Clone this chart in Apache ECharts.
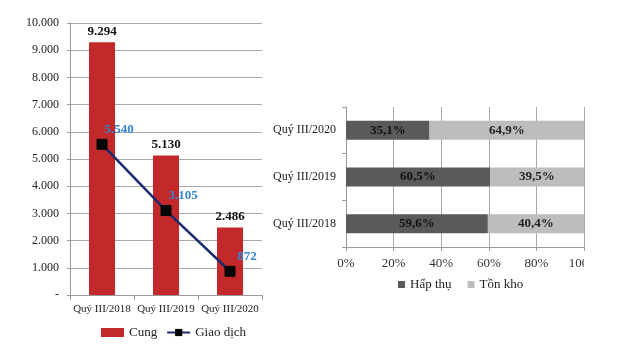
<!DOCTYPE html>
<html>
<head>
<meta charset="utf-8">
<script src="https://cdn.jsdelivr.net/npm/echarts@6/dist/echarts.min.js"></script>
<style>html,body{margin:0;padding:0;background:#fff}#c{width:630px;height:348px}</style>
</head>
<body>
<div id="c"></div>
<script>
var leftCategories = ['Quý III/2018', 'Quý III/2019', 'Quý III/2020'];
var cungValues = [9294, 5130, 2486];
var giaoDichValues = [5540, 3105, 872];
var leftTicks = {min: 0, max: 10000, interval: 1000};

var rightCategories = ['Quý III/2018', 'Quý III/2019', 'Quý III/2020'];
var hapThuValues = [59.6, 60.5, 35.1];
var tonKhoValues = [40.4, 39.5, 64.9];
var rightTicks = {min: 0, max: 100, interval: 20};

var FONT = 'Liberation Serif';
function dotNum(v) {
  if (v === 0) return '-';
  return String(v).replace(/\B(?=(\d{3})+(?!\d))/g, '.');
}
function commaPct(v) { return String(v.toFixed(1)).replace('.', ',') + '%'; }

var chart = echarts.init(document.getElementById('c'), null, {renderer: 'canvas'});
chart.setOption({
  backgroundColor: '#fff',
  animation: false,
  textStyle: {fontFamily: FONT},
  grid: [
    {left: 70, right: 368, top: 23, bottom: 53, containLabel: false},
    {left: 346, right: 46, top: 107, bottom: 101, containLabel: false}
  ],
  legend: [
    {
      left: 96, top: 321, itemGap: 9, itemWidth: 23, itemHeight: 9,
      textStyle: {fontFamily: FONT, fontSize: 13, color: '#222'},
      data: [
        {name: 'Cung', icon: 'rect'},
        {name: 'Giao dịch'}
      ]
    },
    {
      left: 393, top: 273, itemGap: 16, itemWidth: 7, itemHeight: 7,
      textStyle: {fontFamily: FONT, fontSize: 13, color: '#222'},
      data: [
        {name: 'Hấp thụ', icon: 'rect'},
        {name: 'Tồn kho', icon: 'rect'}
      ]
    }
  ],
  xAxis: [
    {
      gridIndex: 0, type: 'category', data: leftCategories,
      axisLine: {lineStyle: {color: '#9a9a9a', width: 1}},
      axisTick: {show: true, alignWithLabel: false, length: 5, lineStyle: {color: '#9a9a9a'}},
      axisLabel: {fontFamily: FONT, fontSize: 11, color: '#222', margin: 9, interval: 0}
    },
    {
      gridIndex: 1, type: 'value', min: rightTicks.min, max: rightTicks.max, interval: rightTicks.interval,
      axisLine: {show: true, lineStyle: {color: '#9a9a9a'}},
      axisTick: {show: true, length: 4, lineStyle: {color: '#9a9a9a'}},
      splitLine: {show: true, lineStyle: {color: '#a8a8a8', width: 1}},
      axisLabel: {fontFamily: FONT, fontSize: 13, color: '#333', margin: 10,
        formatter: function (v) { return v + '%'; }}
    }
  ],
  yAxis: [
    {
      gridIndex: 0, type: 'value', min: leftTicks.min, max: leftTicks.max, interval: leftTicks.interval,
      axisLine: {show: true, lineStyle: {color: '#9a9a9a'}},
      axisTick: {show: true, length: 3, lineStyle: {color: '#9a9a9a'}},
      splitLine: {show: true, lineStyle: {color: '#a8a8a8', width: 1}},
      axisLabel: {fontFamily: FONT, fontSize: 12, color: '#222', margin: 11, formatter: dotNum}
    },
    {
      gridIndex: 1, type: 'category', data: rightCategories,
      axisLine: {show: true, lineStyle: {color: '#9a9a9a'}},
      axisTick: {show: true, length: 4, lineStyle: {color: '#9a9a9a'}},
      axisLabel: {fontFamily: FONT, fontSize: 12, color: '#222', margin: 10}
    }
  ],
  series: [
    {
      name: 'Cung', type: 'bar', xAxisIndex: 0, yAxisIndex: 0, data: cungValues,
      barWidth: 26, itemStyle: {color: '#c3282b'},
      label: {show: true, position: 'top', distance: 4, fontFamily: FONT, fontSize: 13, fontWeight: 'bold', color: '#111',
        formatter: function (p) { return dotNum(p.value); }},
      z: 2
    },
    {
      name: 'Giao dịch', type: 'line', xAxisIndex: 0, yAxisIndex: 0, data: giaoDichValues,
      symbol: 'rect', symbolSize: 10,
      lineStyle: {color: '#1d2a6e', width: 2.5},
      itemStyle: {color: '#050505', borderColor: '#050505'},
      label: {show: true, position: 'top', distance: 3, offset: [17, 0], fontFamily: FONT, fontSize: 13, fontWeight: 'bold', color: '#3585d2',
        formatter: function (p) { return dotNum(p.value); }},
      z: 5
    },
    {
      name: 'Hấp thụ', type: 'bar', stack: 'r', xAxisIndex: 1, yAxisIndex: 1, data: hapThuValues,
      barWidth: 19, itemStyle: {color: '#5a5a5a'},
      label: {show: true, position: 'inside', fontFamily: FONT, fontSize: 13, fontWeight: 'bold', color: '#111',
        formatter: function (p) { return commaPct(p.value); }}
    },
    {
      name: 'Tồn kho', type: 'bar', stack: 'r', xAxisIndex: 1, yAxisIndex: 1, data: tonKhoValues,
      barWidth: 19, itemStyle: {color: '#bdbdbd'},
      label: {show: true, position: 'inside', fontFamily: FONT, fontSize: 13, fontWeight: 'bold', color: '#222',
        formatter: function (p) { return commaPct(p.value); }}
    }
  ],
  graphic: [
    {type: 'rect', left: 584, top: 254, shape: {width: 46, height: 20}, style: {fill: '#fff'}, z: 100}
  ]
});
</script>
</body>
</html>
